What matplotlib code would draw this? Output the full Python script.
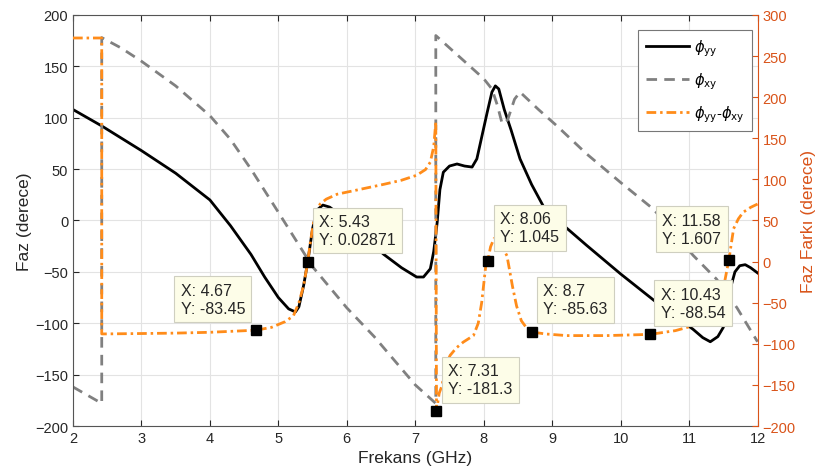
import numpy as np
import matplotlib
matplotlib.use("Agg")
import matplotlib.pyplot as plt

plt.rcParams['font.family'] = ['Liberation Sans', 'DejaVu Sans']
plt.rcParams['mathtext.fontset'] = 'dejavusans'

# phi_yy (left axis)
f_yy = [2.0, 2.42, 3.0, 3.5, 4.0, 4.3, 4.6, 4.8, 5.0, 5.15, 5.25, 5.3, 5.37, 5.43, 5.5,
        5.56, 5.65, 5.75, 5.85, 6.0, 6.29, 6.54, 6.8, 7.02, 7.12, 7.22, 7.27, 7.32, 7.36,
        7.41, 7.5, 7.61, 7.72, 7.83, 7.9, 8.0, 8.05, 8.12, 8.17, 8.22, 8.3, 8.4, 8.53,
        8.7, 8.87, 9.17, 9.5, 10.0, 10.53, 10.8, 11.06, 11.2, 11.31, 11.42, 11.5, 11.55,
        11.6, 11.67, 11.74, 11.82, 11.9, 12.0]
phi_yy = [108, 92, 68, 46, 20, -5, -33, -55, -75, -86, -89, -84, -63, -40, -8,
          10, 15, 13, 8, -3, -18, -33, -46, -55, -55, -47, -30, -2, 30,
          47, 53, 55, 53, 52, 60, 90, 105, 125, 131, 128, 108, 88, 60,
          35, 14, -5, -24, -52, -80, -93, -106, -114, -118, -113, -104, -90,
          -67, -50, -44, -43, -46, -51]

# phi_xy (left axis)
f_xy = [2.0, 2.42, 2.42, 2.7, 3.0, 3.5, 4.0, 4.3, 4.6, 5.0, 5.5, 6.0, 6.4, 7.0, 7.3,
        7.3, 7.6, 8.0, 8.12, 8.2, 8.27, 8.35, 8.45, 8.53, 8.8, 9.07, 9.5, 10.0, 10.48,
        11.06, 11.4, 11.7, 12.0]
phi_xy = [-162, -178, 178, 168, 155, 131, 102, 79, 50, 8, -45, -85, -113, -160, -178,
          180, 162, 138, 128, 112, 94, 98, 118, 125, 108, 92, 65, 37, 11,
          -34, -57, -85, -118]

# phi_yy - phi_xy (right axis)
f_d = [2.0, 2.42, 2.42, 3.0, 3.5, 4.0, 4.67, 4.9, 5.1, 5.22, 5.3, 5.37, 5.43, 5.47,
       5.515, 5.56, 5.61, 5.7, 5.86, 6.2, 6.54, 6.8, 7.02, 7.15, 7.22, 7.27, 7.3, 7.31,
       7.35, 7.39, 7.45, 7.51, 7.6, 7.7, 7.85, 7.92, 7.97, 8.03, 8.06, 8.1, 8.15, 8.2,
       8.27, 8.34, 8.42, 8.48, 8.55, 8.62, 8.7, 8.9, 9.21, 9.8, 10.43, 10.8, 11.06,
       11.25, 11.4, 11.5, 11.58, 11.65, 11.72, 11.79, 11.9, 12.0]
phi_d = [272, 272, -88, -87.5, -87, -86, -83.45, -80, -73, -66, -50, -29, 0.03, 25,
         48, 62, 70, 76, 82, 88, 94, 99, 105, 112, 121, 140, 170, -181.3,
         -160, -151, -125, -114, -105, -98, -90, -75, -50, -5, 1.045, 18, 28, 27,
         18, 7, -30, -54, -72, -80, -85.63, -88, -90, -90, -88.54, -84, -78,
         -72, -62, -33, 1.607, 40, 52, 60, 66, 70]

# data tips
tip_x = [4.67, 5.43, 7.31, 8.06, 8.7, 10.43, 11.58]
tip_y = [-83.45, 0.02871, -181.3, 1.045, -85.63, -88.54, 1.607]
tip_txt = ["X: 4.67\nY: -83.45", "X: 5.43\nY: 0.02871", "X: 7.31\nY: -181.3",
           "X: 8.06\nY: 1.045", "X: 8.7\nY: -85.63", "X: 10.43\nY: -88.54",
           "X: 11.58\nY: 1.607"]
tip_off = [(-43, 31), (50, 31), (44, 31), (42, 33), (44, 32), (43, 31), (-37, 31)]

orange = '#FF8C1A'
axis_orange = '#D95319'
dark = '#262626'

fig = plt.figure(figsize=(8.21, 4.77), dpi=100)
ax1 = fig.add_axes([0.0889, 0.1048, 0.8338, 0.8617])
ax2 = ax1.twinx()

l1, = ax1.plot(f_yy, phi_yy, color='black', lw=2, label=r'$\phi_{\mathrm{yy}}$')
l2, = ax1.plot(f_xy, phi_xy, color='#808080', lw=2, ls=(0, (3.8, 2.6)),
               label=r'$\phi_{\mathrm{xy}}$')
l3, = ax2.plot(f_d, phi_d, color=orange, lw=2, ls=(0, (3.5, 1.4, 0.9, 1.4)),
               label=r'$\phi_{\mathrm{yy}}$-$\phi_{\mathrm{xy}}$')
ax2.plot(tip_x, tip_y, 's', color='black', ms=7, zorder=5)

for x, y, t, off in zip(tip_x, tip_y, tip_txt, tip_off):
    ax2.annotate(t, xy=(x, y), xytext=off, textcoords='offset pixels',
                 ha='center', va='center', multialignment='left', fontsize=11.5,
                 color=dark, zorder=6, linespacing=1.25,
                 bbox=dict(boxstyle='square,pad=0.4', fc='#FDFDE8', ec='#CFCFC0', lw=0.8))

ax1.set_xlim(2, 12)
ax1.set_ylim(-200, 200)
ax2.set_ylim(-200, 300)
ax1.set_xticks(np.arange(2, 13, 1))
ax1.set_yticks(np.arange(-200, 201, 50))
ax2.set_yticks(np.arange(-200, 301, 50))

ax1.grid(True, color='#E3E3E3', lw=0.8)
ax1.set_axisbelow(True)
ax1.tick_params(direction='in', top=True, right=False, labelsize=10.5,
                colors=dark, length=4)
ax2.tick_params(direction='in', colors=axis_orange, labelsize=10.5, length=4)

for s in ['left', 'bottom', 'top']:
    ax1.spines[s].set_color('#555555')
    ax2.spines[s].set_visible(False)
ax1.spines['right'].set_visible(False)
ax2.spines['right'].set_color(axis_orange)

ax1.set_xlabel('Frekans (GHz)', fontsize=12.5, color=dark, labelpad=4)
ax1.set_ylabel('Faz (derece)', fontsize=12.5, color=dark, labelpad=2)
ax2.set_ylabel('Faz Farkı (derece)', fontsize=12.5, color=axis_orange, labelpad=4)

leg = ax2.legend(handles=[l1, l2, l3], loc='upper right',
                 bbox_to_anchor=(0.9912, 0.9635), borderaxespad=0, fontsize=10.5,
                 handlelength=3.0, fancybox=False, framealpha=1, edgecolor='#777777',
                 borderpad=0.5, labelspacing=0.85, handletextpad=0.3)
leg.get_frame().set_linewidth(0.8)
leg.set_zorder(10)

fig.savefig('out.png', dpi=100)
